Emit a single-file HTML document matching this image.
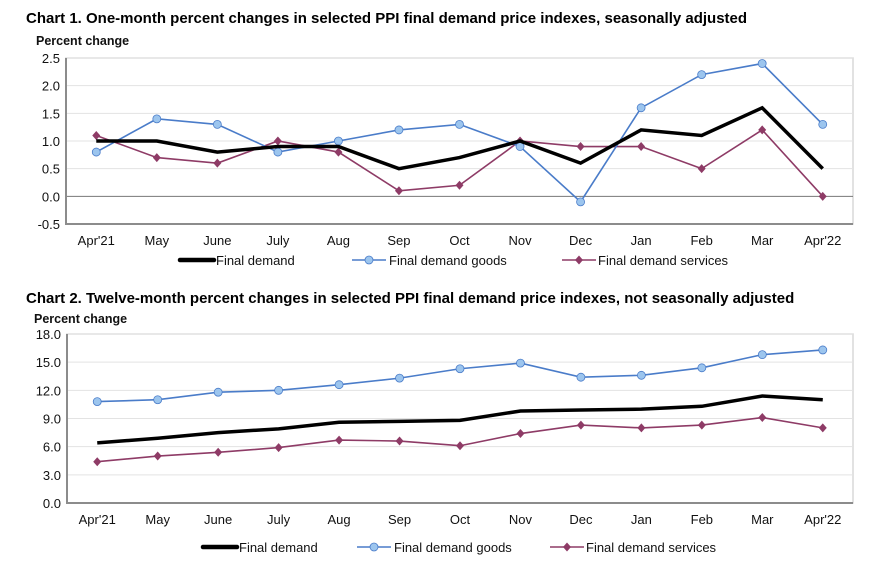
<!DOCTYPE html>
<html><head><meta charset="utf-8"><style>
body{margin:0;background:#fff;}
svg{display:block;font-family:"Liberation Sans",Arial,sans-serif;}
</style></head><body>
<svg id="svg" width="878" height="572" viewBox="0 0 878 572" xmlns="http://www.w3.org/2000/svg">
<text x="26" y="23" font-size="15" font-weight="bold" fill="#000">Chart 1. One-month percent changes in selected PPI final demand price indexes, seasonally adjusted</text>
<text x="36" y="45" font-size="12.5" font-weight="bold" fill="#111">Percent change</text>
<text x="26" y="303" font-size="15" font-weight="bold" fill="#000">Chart 2. Twelve-month percent changes in selected PPI final demand price indexes, not seasonally adjusted</text>
<text x="34" y="323" font-size="12.5" font-weight="bold" fill="#111">Percent change</text>
<g id="c1"></g><g id="c2"></g>
</svg>
<script>
const categories = ["Apr'21","May","June","July","Aug","Sep","Oct","Nov","Dec","Jan","Feb","Mar","Apr'22"];
const c1Demand = [1.0,1.0,0.8,0.9,0.9,0.5,0.7,1.0,0.6,1.2,1.1,1.6,0.5];
const c1Goods = [0.8,1.4,1.3,0.8,1.0,1.2,1.3,0.9,-0.1,1.6,2.2,2.4,1.3];
const c1Services = [1.1,0.7,0.6,1.0,0.8,0.1,0.2,1.0,0.9,0.9,0.5,1.2,0.0];
const c1Ticks = [-0.5,0,0.5,1.0,1.5,2.0,2.5];
const c2Demand = [6.4,6.9,7.5,7.9,8.6,8.7,8.8,9.8,9.9,10.0,10.3,11.4,11.0];
const c2Goods = [10.8,11.0,11.8,12.0,12.6,13.3,14.3,14.9,13.4,13.6,14.4,15.8,16.3];
const c2Services = [4.4,5.0,5.4,5.9,6.7,6.6,6.1,7.4,8.3,8.0,8.3,9.1,8.0];
const c2Ticks = [0,3,6,9,12,15,18];
const NS="http://www.w3.org/2000/svg";
function mk(p,tag,a){const e=document.createElementNS(NS,tag);for(const k in a)e.setAttribute(k,a[k]);p.appendChild(e);return e;}
const BLUE="#4a7cc9", BFILL="#9cc5ee", MAR="#8e3b66";
function chart(g,o){
  const {left,right,top,bottom,min,max,ticks,d,gd,sv,zero,legY,leg,pre}=o;
  const bw=(right-left)/categories.length;
  const x=i=>left+bw*(i+0.5);
  const y=v=>bottom-(v-min)/(max-min)*(bottom-top);
  const frame=mk(g,'rect',{x:left,y:top,width:right-left,height:bottom-top,fill:'#fff',stroke:'#d9d9d9','stroke-width':1.5});
  
  ticks.forEach(t=>{
    const ln=mk(g,'line',{x1:left,x2:right,y1:y(t),y2:y(t),stroke:(zero&&t===0)?'#777':'#e3e3e3','stroke-width':1});
    
    const tx=mk(g,'text',{x:left-6,y:y(t)+5,'text-anchor':'end','font-size':13,fill:'#111'});
    tx.textContent=t.toFixed(1);
    
  });
  const ax=mk(g,'path',{d:`M${left},${top} V${bottom} H${right}`,fill:'none',stroke:'#8c8c8c','stroke-width':2});
  
  categories.forEach((c,i)=>{
    const tx=mk(g,'text',{x:x(i),y:bottom+21,'text-anchor':'middle','font-size':13,fill:'#111'});
    tx.textContent=c;
    
  });
  const pts=a=>a.map((v,i)=>x(i)+','+y(v)).join(' ');
  const sl=mk(g,'polyline',{points:pts(sv),fill:'none',stroke:MAR,'stroke-width':1.6});
  
  sv.forEach((v,i)=>{const m=mk(g,'path',{d:`M${x(i)},${y(v)-4.5} l4,4.5 l-4,4.5 l-4,-4.5z`,fill:MAR});
    });
  const gl=mk(g,'polyline',{points:pts(gd),fill:'none',stroke:BLUE,'stroke-width':1.6});
  
  gd.forEach((v,i)=>{const m=mk(g,'circle',{cx:x(i),cy:y(v),r:4,fill:BFILL,stroke:BLUE,'stroke-width':0.8});
    });
  const dl=mk(g,'polyline',{points:pts(d),fill:'none',stroke:'#000','stroke-width':3.5,'stroke-linejoin':'miter'});
  
  const l1=mk(g,'line',{x1:leg[0],x2:leg[0]+34,y1:legY,y2:legY,stroke:'#000','stroke-width':4.5,'stroke-linecap':'round'});
  
  const t1=mk(g,'text',{x:leg[0]+36,y:legY+5,'font-size':13,fill:'#111'});t1.textContent='Final demand';
  
  const l2=mk(g,'line',{x1:leg[1],x2:leg[1]+34,y1:legY,y2:legY,stroke:BLUE,'stroke-width':1.6});
  
  const c2=mk(g,'circle',{cx:leg[1]+17,cy:legY,r:4,fill:BFILL,stroke:BLUE,'stroke-width':0.8});
  
  const t2=mk(g,'text',{x:leg[1]+37,y:legY+5,'font-size':13,fill:'#111'});t2.textContent='Final demand goods';
  
  const l3=mk(g,'line',{x1:leg[2],x2:leg[2]+34,y1:legY,y2:legY,stroke:MAR,'stroke-width':1.6});
  
  const m3=mk(g,'path',{d:`M${leg[2]+17},${legY-4.5} l4,4.5 l-4,4.5 l-4,-4.5z`,fill:MAR});
  
  const t3=mk(g,'text',{x:leg[2]+36,y:legY+5,'font-size':13,fill:'#111'});t3.textContent='Final demand services';
  
}
chart(document.getElementById('c1'),{left:66,right:853,top:58,bottom:224,min:-0.5,max:2.5,ticks:c1Ticks,d:c1Demand,gd:c1Goods,sv:c1Services,zero:true,legY:260,leg:[180,352,562],pre:'chart1'});
chart(document.getElementById('c2'),{left:67,right:853,top:334,bottom:503,min:0,max:18,ticks:c2Ticks,d:c2Demand,gd:c2Goods,sv:c2Services,zero:false,legY:547,leg:[203,357,550],pre:'chart2'});
</script>
</body></html>
